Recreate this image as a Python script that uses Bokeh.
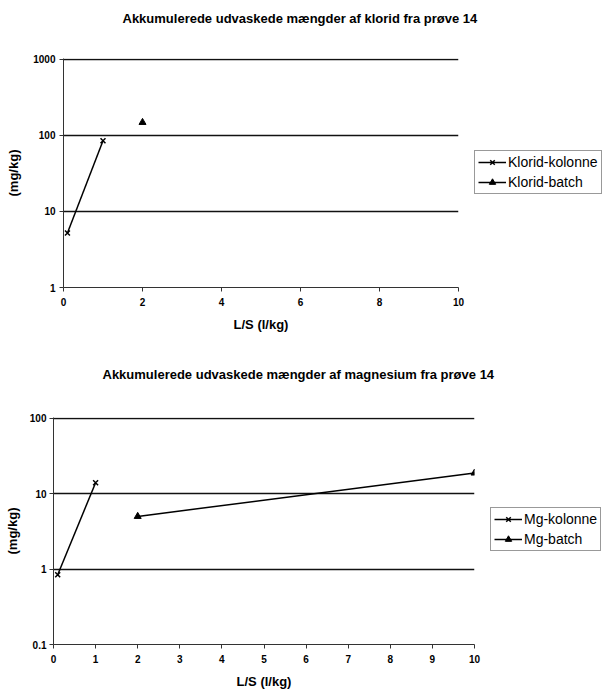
from bokeh.plotting import figure
from bokeh.models import FixedTicker, Legend, LegendItem, Title
from bokeh.embed import file_html
from bokeh.resources import INLINE

# ---- data ----
title1 = "Akkumulerede udvaskede mængder af klorid fra prøve 14"
title2 = "Akkumulerede udvaskede mængder af magnesium fra prøve 14"
x_label = "L/S (l/kg)"
y_label = "(mg/kg)"

klorid_kolonne_x = [0.1, 1.0]
klorid_kolonne_y = [5.2, 85.0]
klorid_batch_x = [2.0]
klorid_batch_y = [148.0]

mg_kolonne_x = [0.1, 1.0]
mg_kolonne_y = [0.84, 14.0]
mg_batch_x = [2.0, 10.0]
mg_batch_y = [5.0, 18.8]

x_ticks1 = [0, 2, 4, 6, 8, 10]
x_ticks2 = [0, 1, 2, 3, 4, 5, 6, 7, 8, 9, 10]
y_ticks1 = [1, 10, 100, 1000]
y_ticks2 = [0.1, 1, 10, 100]
y_tick_labels1 = ["1", "10", "100", "1000"]
y_tick_labels2 = ["0.1", "1", "10", "100"]

FONT = "Liberation Sans"


def make_chart(title, frame_w, frame_h, border_top, border_left, y_range, xticks, yticks, ylabels,
               kx, ky, bx, by, names, title_offset, spacer_standoff, legend_y,
               ylabel_standoff, ytick_standoff):
    border_right = 607 - border_left - frame_w
    p = figure(frame_width=frame_w, frame_height=frame_h, x_range=(0, 10), y_range=y_range,
               y_axis_type="log", output_backend="svg", toolbar_location=None,
               min_border_top=border_top, min_border_left=border_left,
               min_border_right=border_right, min_border_bottom=53, title=None)
    p.outline_line_color = None
    p.background_fill_color = "white"
    p.border_fill_color = "white"

    # spacer between title and plot area (closest to frame)
    spacer = Title(text=" ", text_font=FONT, text_font_size="13px", standoff=spacer_standoff)
    p.add_layout(spacer, "above")
    t = Title(text=title, text_font=FONT, text_font_size="13px", text_font_style="bold",
              align="left", offset=title_offset, standoff=0, text_color="black")
    p.add_layout(t, "above")

    p.xgrid.grid_line_color = None
    p.ygrid.grid_line_color = "#111111"
    p.ygrid.grid_line_width = 1.6
    p.ygrid.minor_grid_line_color = None

    p.xaxis.ticker = FixedTicker(ticks=xticks)
    p.yaxis.ticker = FixedTicker(ticks=yticks, minor_ticks=[])
    p.yaxis.major_label_overrides = {t: l for t, l in zip(yticks, ylabels)}
    for ax in (p.xaxis, p.yaxis):
        ax.axis_line_color = "#333333"
        ax.axis_line_width = 1
        ax.major_tick_line_color = "#333333"
        ax.major_tick_in = 0
        ax.major_tick_out = 4
        ax.minor_tick_line_color = None
        ax.major_label_text_font = FONT
        ax.major_label_text_font_size = "10px"
        ax.major_label_text_font_style = "bold"
        ax.major_label_text_color = "black"
        ax.axis_label_text_font = FONT
        ax.axis_label_text_font_size = "13px"
        ax.axis_label_text_font_style = "bold"
        ax.axis_label_text_color = "black"
    p.xaxis.axis_label = x_label
    p.yaxis.axis_label = y_label
    p.xaxis.major_label_standoff = 6
    p.xaxis.axis_label_standoff = 8
    p.yaxis.major_label_standoff = ytick_standoff
    p.yaxis.axis_label_standoff = ylabel_standoff

    kl = p.line(kx, ky, line_color="black", line_width=1.5)
    ks = p.scatter(kx, ky, marker="x", size=7, line_color="black", line_width=1.5)
    if len(bx) > 1:
        bl = p.line(bx, by, line_color="black", line_width=1.5)
    else:
        bl = p.line([bx[0], bx[0]], [by[0], by[0]], line_color="black", line_width=1.5)
    bs = p.scatter(bx, by, marker="triangle", size=7, fill_color="black", line_color="black")

    legend = Legend(items=[LegendItem(label=names[0], renderers=[kl, ks]),
                           LegendItem(label=names[1], renderers=[bl, bs])],
                    location=(16, legend_y))
    legend.label_text_font = FONT
    legend.label_text_font_size = "14px"
    legend.label_text_color = "black"
    legend.border_line_color = "#333333"
    legend.border_line_width = 1
    legend.glyph_width = 28
    legend.glyph_height = 16
    legend.label_standoff = 2
    legend.label_height = 16
    legend.spacing = 4
    legend.padding = 3
    legend.margin = 0
    legend.background_fill_color = "white"
    p.add_layout(legend, "right")
    return p


p1 = make_chart(title1, 395, 229, 58, 63, (1, 1025), x_ticks1, y_ticks1, y_tick_labels1,
                klorid_kolonne_x, klorid_kolonne_y, klorid_batch_x, klorid_batch_y,
                ["Klorid-kolonne", "Klorid-batch"], 59, 16, 93, 9, 4)
p2 = make_chart(title2, 421, 227, 77, 53, (0.1, 102.5), x_ticks2, y_ticks2, y_tick_labels2,
                mg_kolonne_x, mg_kolonne_y, mg_batch_x, mg_batch_y,
                ["Mg-kolonne", "Mg-batch"], 49, 19, 93, 7, 3)

open("out.html", "w").write(file_html([p1, p2], INLINE))
